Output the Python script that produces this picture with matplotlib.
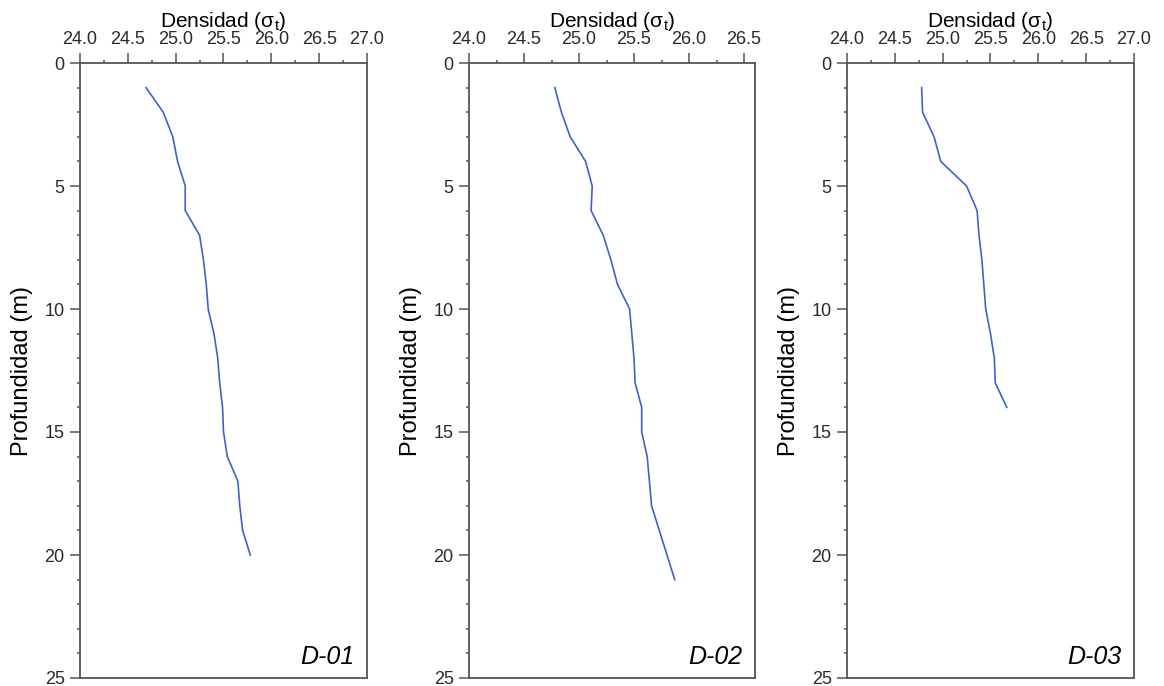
import numpy as np
import matplotlib
matplotlib.use("Agg")
import matplotlib.pyplot as plt
from matplotlib.ticker import MultipleLocator, FormatStrFormatter

plt.rcParams['font.family'] = ['Liberation Sans', 'DejaVu Sans']
plt.rcParams['mathtext.fontset'] = 'custom'
plt.rcParams['mathtext.rm'] = 'Liberation Sans'
plt.rcParams['mathtext.it'] = 'Liberation Sans'

# sigma-t profiles per station (depth in m)
stations = ['D-01', 'D-02', 'D-03']

depth_d01 = [1, 2, 3, 4, 5, 6, 7, 8, 9, 10, 11, 12, 13, 14, 15, 16, 17, 18, 19, 20]
sigma_d01 = [24.69, 24.87, 24.97, 25.02, 25.10, 25.10, 25.25, 25.29, 25.32, 25.34,
             25.40, 25.44, 25.46, 25.49, 25.50, 25.54, 25.65, 25.67, 25.70, 25.78]

depth_d02 = [1, 2, 3, 4, 5, 6, 7, 8, 9, 10, 11, 12, 13, 14, 15, 16, 17, 18, 19, 20, 21]
sigma_d02 = [24.78, 24.84, 24.92, 25.06, 25.12, 25.11, 25.22, 25.29, 25.35, 25.46,
             25.48, 25.50, 25.51, 25.57, 25.57, 25.62, 25.64, 25.66, 25.73, 25.80, 25.87]

depth_d03 = [1, 2, 3, 4, 5, 6, 7, 8, 9, 10, 11, 12, 13, 14]
sigma_d03 = [24.78, 24.79, 24.91, 24.98, 25.25, 25.36, 25.38, 25.41, 25.43, 25.45,
             25.50, 25.54, 25.55, 25.67]

xlims = [(24.0, 27.0), (24.0, 26.6), (24.0, 27.0)]
profiles = [(sigma_d01, depth_d01), (sigma_d02, depth_d02), (sigma_d03, depth_d03)]

W, H = 1164, 686
fig = plt.figure(figsize=(W / 100, H / 100), dpi=100)

# axes boxes in pixels: left, right
boxes = [(80, 367), (469, 755), (847, 1134)]
top, bottom = 63, 678

spine_col = '#555555'
text_col = '#2a2a2a'

for (l, r), (x, y), xl, name in zip(boxes, profiles, xlims, stations):
    ax = fig.add_axes([l / W, (H - bottom) / H, (r - l) / W, (bottom - top) / H])
    ax.plot(x, y, color='#3b63c9', lw=1.2)
    ax.set_xlim(*xl)
    ax.set_ylim(25, 0)
    ax.xaxis.tick_top()
    ax.xaxis.set_label_position('top')
    ax.xaxis.set_major_locator(MultipleLocator(0.5))
    ax.xaxis.set_minor_locator(MultipleLocator(0.25))
    ax.yaxis.set_major_locator(MultipleLocator(5))
    ax.yaxis.set_minor_locator(MultipleLocator(1))
    ax.xaxis.set_major_formatter(FormatStrFormatter('%.1f'))
    ax.tick_params(which='major', direction='out', length=7, width=1.1,
                   color=spine_col, labelsize=13, labelcolor=text_col, pad=4)
    ax.tick_params(which='minor', direction='out', length=2, width=1.1,
                   color=spine_col)
    for s in ax.spines.values():
        s.set_color(spine_col)
        s.set_linewidth(1.3)
    ax.set_xlabel('Densidad ($\\mathrm{\\sigma_t}$)', fontsize=15, color='black',
                  labelpad=3)
    ax.set_ylabel('Profundidad (m)', fontsize=17, color='black', labelpad=8)
    ax.text(0.955, 0.015, name, transform=ax.transAxes, ha='right', va='bottom',
            fontsize=18, style='italic', color='black')

fig.savefig('out.png', dpi=100, facecolor='white')
